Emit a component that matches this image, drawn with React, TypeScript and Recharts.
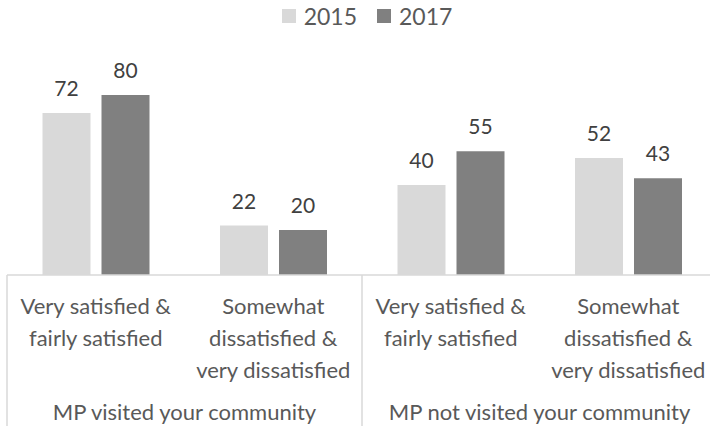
import React from 'react';
import { BarChart, Bar, XAxis, YAxis, Legend, LabelList } from 'recharts';

const categories = [
  'Very satisfied &\nfairly satisfied',
  'Somewhat\ndissatisfied &\nvery dissatisfied',
  'Very satisfied &\nfairly satisfied',
  'Somewhat\ndissatisfied &\nvery dissatisfied',
];
const groups = [
  'MP visited your community',
  'MP visited your community',
  'MP not visited your community',
  'MP not visited your community',
];
const values2015 = [72, 22, 40, 52];
const values2017 = [80, 20, 55, 43];

const data = categories.map((c, i) => ({
  category: c,
  group: groups[i],
  y2015: values2015[i],
  y2017: values2017[i],
}));

const FONT = 'Lato, "Noto Sans", sans-serif';
const LIGHT = '#d9d9d9';
const DARK = '#808080';
const TEXT = '#595959';
const GRID = '#d9d9d9';

// two-level category axis: the wrapped label, plus group label + separators
function CategoryTick(props: any) {
  const { x, y, payload, index } = props;
  const half = payload?.offset ?? 88.75;
  const lines = String(payload?.value ?? '').split('\n');
  const last = index === categories.length - 1;
  return (
    <g>
      {lines.map((ln, i) => (
        <text key={i} x={x} y={y + 39 + i * 32} textAnchor="middle" fill={TEXT}
          fontSize={22} fontFamily={FONT}>{ln}</text>
      ))}
      {index % 2 === 0 && (
        <>
          <line x1={x - half} x2={x - half} y1={y} y2={y + 160} stroke={GRID} strokeWidth={1.5} />
          <text x={x + half} y={y + 145} textAnchor="middle" fill={TEXT}
            fontSize={22} fontFamily={FONT}>{groups[index]}</text>
        </>
      )}
      {last && <line x1={x + half} x2={x + half} y1={y} y2={y + 160} stroke={GRID} strokeWidth={1.5} />}
    </g>
  );
}

function LegendContent() {
  const items = [
    { name: '2015', color: LIGHT },
    { name: '2017', color: DARK },
  ];
  return (
    <div style={{ display: 'flex', justifyContent: 'center', paddingLeft: 10, fontFamily: FONT }}>
      {items.map((it) => (
        <div key={it.name} style={{ display: 'flex', alignItems: 'center', marginRight: it.name === '2015' ? 20 : 0 }}>
          <span style={{ width: 14, height: 14, background: it.color, display: 'inline-block', marginRight: 8 }} />
          <span style={{ fontSize: 23, color: TEXT }}>{it.name}</span>
        </div>
      ))}
    </div>
  );
}

export default function App() {
  return (
    <div style={{ position: 'absolute', left: 0, top: 0, width: 710, height: 426, overflow: 'hidden', background: '#fff' }}>
      <BarChart
        width={724}
        height={426}
        data={data}
        margin={{ top: 2, right: 7, bottom: 0, left: 7 }}
        barCategoryGap="20%"
        barGap={11}
      >
        <Legend verticalAlign="top" height={93} content={<LegendContent />} />
        <XAxis
          dataKey="category"
          height={151}
          tickSize={0}
          tickMargin={0}
          tickLine={false}
          axisLine={{ stroke: GRID, strokeWidth: 1.5 }}
          tick={<CategoryTick />}
          interval={0}
        />
        <YAxis hide domain={[0, 80]} />
        <Bar dataKey="y2015" fill={LIGHT} isAnimationActive={false}>
          <LabelList dataKey="y2015" position="top" offset={17} fill="#404040" fontSize={21} fontFamily={FONT} />
        </Bar>
        <Bar dataKey="y2017" fill={DARK} isAnimationActive={false}>
          <LabelList dataKey="y2017" position="top" offset={17} fill="#404040" fontSize={21} fontFamily={FONT} />
        </Bar>
      </BarChart>
    </div>
  );
}
